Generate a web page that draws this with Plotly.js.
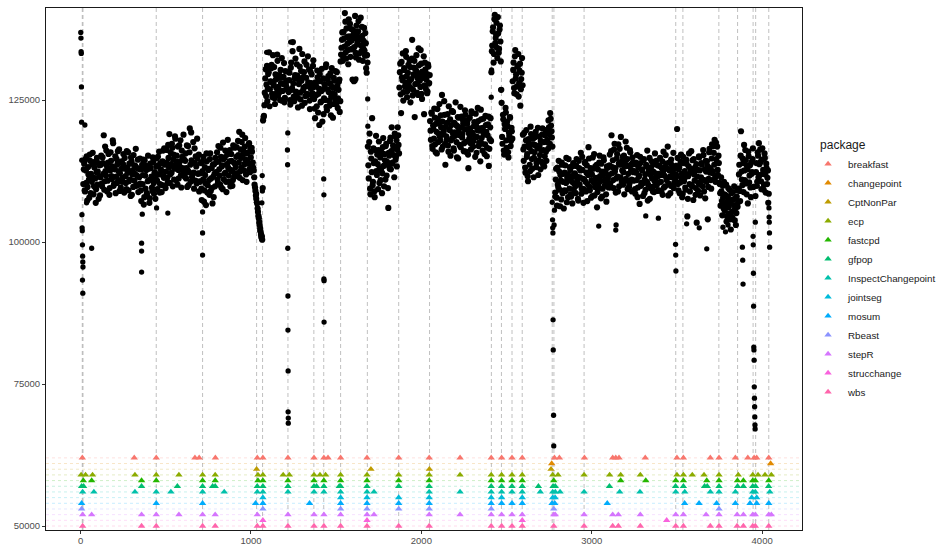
<!DOCTYPE html>
<html>
<head>
<meta charset="utf-8">
<script src="https://cdn.plot.ly/plotly-3.0.1.min.js"></script>
<style>html,body{margin:0;padding:0;background:#fff;}#chart{width:936px;height:545px;}</style>
</head>
<body>
<div id="chart"></div>
<script>
// ---------- observed series (values in thousands), two interleaved samplings every 5 index units ----------
const sampleStep = 5;
const interleaveOffset = 3;
const regimeStartX = [16, 1071, 1221, 1526, 1686, 1871, 2051, 2411, 2471, 2536, 2596, 2786, 3496, 3751, 3861, 3961];

const regime01 = [
110.2,113.8,108.9,112.6,115.1,109.7,111.9,107.8,114.3,112.0,
110.6,115.7,108.4,113.1,111.2,109.3,114.8,112.4,107.6,113.5,
111.4,115.2,109.8,113.9,118.8,110.7,112.5,116.1,108.9,114.0,
112.9,109.5,115.8,111.6,113.3,117.4,110.2,112.8,108.6,114.6,
113.7,110.9,116.3,112.1,
109.6,114.2,111.3,115.5,108.7,112.9,110.4,116.0,112.2,109.1,
113.8,111.0,114.9,108.3,112.6,115.3,110.8,113.4,109.9,111.7,
114.5,110.1,112.8,
110.3,107.2,113.6,111.8,106.6,114.4,109.4,112.7,108.1,115.2,
110.9,107.7,113.0,111.5,109.0,114.1,108.5,112.3,
111.1,114.7,109.3,113.5,115.9,110.2,112.8,108.8,114.2,111.6,116.5,109.9,
112.4,116.2,110.5,114.8,119.0,111.9,113.7,117.3,109.8,115.4,
112.9,118.2,110.9,114.1,116.8,111.2,113.3,117.9,109.6,115.0,
112.6,114.6,
111.5,115.6,113.0,109.7,116.9,112.3,120.0,110.6,114.4,111.8,
117.6,109.4,113.9,115.1,110.3,114.7,112.1,108.9,
110.6,113.9,107.4,112.5,115.0,109.1,111.8,106.5,114.2,110.0,
112.9,108.3,115.6,111.2,109.5,113.6,107.9,112.0,114.8,
112.3,115.8,110.4,114.2,111.7,116.6,109.6,113.5,117.5,111.0,
114.9,112.2,108.8,115.4,113.1,110.6,116.2,112.7,114.3,109.9,
117.0,111.5,113.8,
113.2,116.7,111.6,115.3,119.4,112.4,114.8,117.6,110.9,116.0,
113.7,118.3,111.9,115.6,114.1,117.2,112.8,116.4,113.5,115.9,
114.0,112.6,110.1,109.0,107.6,106.8,105.3,104.2,103.0,101.9,100.8,100.4];
const regime01b = [
112.8,109.1,114.6,110.4,107.3,113.2,111.0,115.4,108.6,110.9,
113.7,111.4,109.8,114.1,106.9,112.3,110.1,113.9,111.6,108.2,
113.6,110.3,114.9,112.0,109.2,116.8,111.7,113.4,110.8,115.5,
108.3,112.6,114.3,111.1,117.9,109.9,113.0,115.1,111.5,110.4,
116.0,112.4,109.0,114.0,
112.9,110.6,113.7,108.9,114.8,111.6,109.3,113.1,115.8,110.7,
112.4,108.1,114.2,111.9,109.7,113.5,112.0,116.4,110.0,113.0,
108.8,111.4,114.7,
109.1,112.8,110.2,114.5,107.9,111.7,113.4,108.6,110.7,112.9,
106.9,113.8,111.0,109.6,114.9,110.4,112.1,107.6,
113.3,110.8,115.0,111.9,108.7,113.9,112.5,110.0,116.1,111.3,113.6,109.5,
114.0,111.3,117.1,113.1,110.4,115.7,112.2,116.6,114.5,111.0,
118.6,113.5,115.2,110.1,112.7,117.0,114.2,111.8,116.1,113.0,
118.9,112.0,
114.3,111.2,117.0,112.6,110.0,115.8,113.6,119.3,111.4,114.0,
112.2,116.5,110.8,113.3,118.2,112.0,115.4,110.7,
112.1,109.4,114.1,111.0,107.1,113.2,110.3,115.6,108.7,112.7,
110.9,114.6,109.0,113.0,106.8,111.5,113.7,109.8,112.2,
114.1,111.0,116.9,112.8,110.1,115.0,113.3,109.3,114.6,112.0,
116.1,110.6,113.7,118.0,111.7,114.2,109.8,115.5,112.5,110.9,
114.0,116.6,112.1,
115.0,112.1,117.8,114.0,111.3,116.3,113.1,118.9,115.4,112.6,
116.8,114.5,110.6,115.7,113.8,117.4,112.3,114.9,116.6,113.0,
113.1,111.4,109.6,108.2,107.0,105.9,104.6,103.5,102.4,101.4,101.0,109.5];
const regime02 = [
121.4,122.2,126.3,130.4,127.7,124.8,129.6,133.4,126.9,128.3,
131.2,125.5,127.9,130.8,124.3,128.6,126.2,131.9,127.3,129.4,
125.0,128.0,132.4,126.6,129.1,124.6,130.1,127.5,128.4];
const regime02b = [
122.0,124.1,128.8,125.7,131.0,127.0,129.9,123.9,128.2,130.6,
126.1,132.9,127.6,125.3,129.5,127.1,133.0,125.8,128.9,126.4,
130.3,124.9,129.0,127.8,131.5,125.4,128.1,126.9,130.0];
const regime03 = [
126.4,129.8,124.2,131.6,127.1,135.2,125.6,128.8,132.3,126.0,
129.3,123.7,127.8,130.9,125.1,128.4,133.1,126.7,129.9,124.5,
127.4,131.2,125.9,128.1,130.4,123.4,127.0,129.5,126.2,132.0,
125.2,121.8,127.6,123.9,129.0,126.1,120.6,128.3,124.7,130.5,
126.9,122.5,127.8,125.0,131.3,123.2,128.6,126.4,124.0,129.7,
125.6,127.3,121.9,128.9,126.0,130.1,124.4,127.5,125.3,128.2,122.9];
const regime03b = [
128.5,125.0,130.7,126.8,133.6,127.9,124.8,129.4,126.5,131.3,
125.4,128.6,134.0,126.3,130.1,124.0,129.0,127.2,131.8,125.7,
128.9,126.1,132.7,127.5,124.9,130.0,128.0,125.8,131.0,127.3,
123.5,128.1,125.9,130.2,122.8,127.0,129.6,124.6,126.6,121.2,
128.8,125.3,127.7,130.8,123.8,126.9,129.2,124.9,127.9,122.3,
130.6,126.2,124.3,128.4,125.1,127.0,129.9,123.6,126.8,128.6,124.8];
const regime04 = [
131.8,134.2,136.9,132.7,135.8,140.3,133.4,137.6,134.9,131.3,
136.2,138.4,133.9,135.5,128.6,137.2,134.3,139.8,132.5,136.6,
135.1,138.9,133.2,136.0,134.6,137.9,131.9,135.4,133.7,136.8,130.6,132.9];
const regime04b = [
133.0,135.6,131.9,137.0,134.4,138.8,132.3,136.1,133.8,139.2,
135.2,132.6,137.5,134.0,136.4,128.3,135.9,133.3,138.1,134.8,
137.1,132.1,135.7,139.5,133.6,136.3,134.1,137.7,132.8,135.0,129.8,131.6];
const regime05 = [
116.8,111.2,119.1,108.4,114.7,121.8,110.6,113.9,107.9,116.2,
112.5,115.4,109.3,117.7,113.0,110.9,115.8,112.1,118.3,109.8,
114.4,116.9,111.7,113.6,106.0,115.2,117.8,112.8,120.2,114.0,
116.4,111.4,118.6,115.0,113.3,120.2,117.1];
const regime05b = [
113.5,117.6,109.4,115.9,112.3,110.0,116.5,108.9,114.2,118.7,
111.8,113.7,116.2,110.4,114.9,112.6,108.6,116.7,113.4,115.5,
111.0,117.3,114.1,109.5,115.7,112.9,118.4,116.0,113.8,117.0,
115.3,119.1,114.5,117.9,116.3,118.8,115.6];
const regime06 = [
127.2,131.4,122.7,129.0,133.2,126.4,130.3,128.1,132.6,125.5,
129.8,127.6,131.9,124.6,128.7,135.6,126.8,130.7,122.0,129.3,
132.9,127.9,125.9,131.1,128.4,133.8,126.1,130.0,128.9,122.5,
131.6,127.0,129.6,126.5,130.9,128.0];
const regime06b = [
129.9,126.0,131.7,128.5,124.9,130.6,127.4,133.6,129.2,126.6,
131.2,128.3,130.8,127.1,132.3,125.8,129.5,131.9,127.8,130.2,
126.3,128.8,134.1,129.7,127.3,131.4,125.2,129.1,132.7,127.6,
130.4,128.6,126.2,131.3,127.9,129.4];
const regime07 = [
121.3,118.0,122.6,116.4,119.9,123.5,117.2,120.8,115.6,121.7,
119.1,124.3,117.9,120.2,125.9,116.8,119.5,122.4,113.6,118.6,
121.0,117.0,123.9,119.7,115.2,120.6,118.3,122.9,116.1,119.3,
124.6,117.6,120.4,114.7,121.9,118.8,116.7,122.1,119.0,120.9,
117.4,123.2,115.9,119.8,121.4,113.0,118.2,120.0,116.3,122.7,
119.2,117.8,121.1,115.0,120.5,118.5,123.6,116.9,119.6,114.2,
121.6,117.3,120.1,118.9,115.5,122.2,119.4,116.6,120.7,113.4,
118.1,121.8];
const regime07b = [
119.6,122.8,116.9,120.5,118.2,121.9,115.8,119.4,123.4,117.6,
120.9,118.5,122.3,116.3,121.2,119.0,124.8,117.3,120.3,118.0,
122.5,115.9,119.8,121.6,117.9,123.1,119.2,116.5,121.0,118.7,
120.6,114.9,122.0,119.5,117.1,123.8,120.2,118.4,121.5,116.0,
119.9,122.4,117.7,120.8,115.4,119.1,121.9,117.4,123.0,118.9,
116.8,120.4,118.6,122.6,115.7,119.7,121.3,117.5,120.0,123.3,
118.3,116.1,121.7,119.3,117.2,120.6,115.1,118.8,122.1,116.4,
120.2,117.8];
const regime08 = [129.9,134.6,137.8,133.1,140.0,135.9,138.6,132.4,136.7,134.0,138.1,131.8];
const regime08b = [133.6,137.1,131.6,139.2,135.0,136.5,134.2,139.6,133.3,137.4,135.3,126.8];
const regime09 = [124.5,117.3,121.6,115.4,119.9,122.8,116.6,120.4,114.9,118.7,121.9,117.8,119.5];
const regime09b = [118.5,122.4,116.1,120.7,123.6,117.9,121.2,115.8,119.3,122.0,116.9,120.1,118.2];
const regime10 = [128.3,131.6,126.2,133.8,129.5,127.4,131.0,125.6,130.2,124.0,128.7,132.4];
const regime10b = [130.3,127.1,132.7,128.8,126.0,130.9,133.1,128.0,131.4,126.9,129.8,127.6];
const regime11 = [
118.9,114.3,116.8,112.2,119.7,115.5,110.7,117.4,113.6,120.3,
116.0,112.9,118.2,114.8,117.1,119.4,113.9,116.5,111.8,118.6,
115.3,117.8,114.1,120.0,116.2,113.3,118.8,115.9,119.3,117.5,
121.4,119.0,122.7,120.5,118.4];
const regime11b = [
116.3,119.2,113.1,117.9,115.0,111.6,118.1,116.6,112.5,119.0,
114.6,117.2,111.4,115.8,118.5,113.2,116.9,120.1,114.4,117.0,
112.8,116.1,118.9,113.7,117.6,115.1,119.7,114.3,118.0,116.4,
120.2,117.3,121.7,119.5,116.8];
const regime12 = [
108.7,112.9,106.4,110.1,114.3,109.2,111.8,107.5,113.6,110.6,
105.9,112.2,109.0,114.8,111.3,107.9,110.9,113.2,108.4,111.6,
106.8,113.9,110.3,
112.1,108.6,114.6,110.8,107.3,113.0,111.4,115.7,109.4,112.7,
106.9,111.0,114.1,108.9,113.5,110.2,116.7,109.7,112.4,107.8,
111.9,114.9,110.5,108.2,113.3,111.1,106.1,112.8,109.5,115.2,
110.7,113.8,108.0,111.7,114.4,109.9,112.5,107.1,110.4,113.1,
111.8,115.4,109.6,118.8,113.2,110.9,116.3,112.4,108.7,114.7,
111.5,117.2,109.8,113.6,118.5,110.6,115.0,112.3,108.4,114.2,
111.1,116.6,109.3,113.4,110.2,115.8,112.7,108.9,114.0,
110.8,113.7,108.5,112.2,115.3,109.6,111.5,106.7,113.9,110.4,
112.6,108.1,114.6,111.0,109.2,113.3,116.1,110.1,112.9,107.6,
111.8,114.2,109.7,112.4,108.8,115.6,111.3,110.0,113.5,
112.0,109.1,114.8,110.6,113.0,108.3,115.9,111.7,109.8,113.8,
111.2,116.8,110.3,112.6,108.6,114.5,111.4,113.2,109.5,112.9,110.8];
const regime12b = [
111.0,107.8,113.1,109.6,112.4,106.3,110.8,114.0,108.6,112.0,
109.1,113.5,110.4,107.0,111.9,114.6,109.4,112.7,108.0,110.6,
113.4,109.2,111.5,
109.8,113.4,111.5,107.6,114.3,110.1,112.6,108.5,115.0,111.1,
109.3,113.9,110.6,112.2,107.2,111.8,114.7,109.1,113.0,110.9,
108.1,112.9,115.5,109.7,111.3,113.6,108.8,110.2,114.0,111.6,
107.7,112.4,109.4,114.9,110.8,112.1,108.4,113.3,111.2,109.6,
113.5,110.3,116.0,112.1,114.4,109.5,117.3,113.0,111.2,115.5,
108.9,113.8,116.4,111.4,114.1,112.6,110.1,115.2,113.3,117.7,
110.8,114.6,112.0,109.7,116.2,113.6,111.0,114.9,112.3,
112.5,109.3,114.0,110.9,107.9,113.1,111.7,115.0,109.9,112.8,
110.3,114.4,108.6,111.9,113.6,110.6,107.3,112.3,114.8,109.5,
113.2,111.2,108.9,113.7,110.7,112.1,114.3,109.0,111.6,
110.5,113.4,111.8,108.9,114.2,112.4,109.6,113.1,115.3,110.9,
112.9,108.2,114.0,111.5,109.9,113.6,112.2,115.7,110.4,113.0,111.9];
const regime13 = [
113.4,119.9,110.2,112.8,108.6,114.1,111.3,107.9,115.0,110.7,
112.5,109.2,113.8,104.5,111.6,115.6,108.9,112.2,110.0,114.4,
107.4,111.9,113.1,109.5,103.4,112.7,110.4,114.9,108.2,111.4,
113.6,109.8,115.3,110.9,107.7,112.4,114.2,104.0,111.1,116.4,
113.0,109.4,117.2,112.1,115.7,118.0,110.6,114.6,116.8,111.8,113.9];
const regime13b = [
111.6,114.8,109.1,113.2,110.5,115.4,112.0,108.5,113.9,111.2,
109.6,114.5,111.9,107.6,113.3,110.2,112.9,116.0,109.8,112.4,
114.6,110.8,108.3,113.7,111.5,109.0,115.1,112.6,110.1,113.9,
111.0,116.2,108.9,112.8,114.3,110.6,113.4,109.7,115.8,112.2,
110.9,114.7,112.5,116.9,113.6,111.3,117.5,114.0,112.7,115.2,110.4];
const regime14 = [
110.2,106.4,108.9,104.7,107.8,110.6,105.5,108.2,103.6,107.1,
109.5,105.0,106.9,102.2,108.6,104.3,107.5,109.8,105.8,103.0,108.0,106.2];
const regime14b = [
108.6,111.4,107.2,109.9,105.9,108.4,106.7,110.1,104.5,108.0,
106.1,109.2,104.0,107.4,105.3,108.8,106.5,103.8,107.7,105.1,109.1,107.0];
const regime15 = [109.4,113.6,107.2,119.5,111.0,114.7,108.8,112.6,116.2,110.3,113.4,106.8,115.1,111.7,109.6,114.0,112.3,116.5];
const regime15b = [111.9,109.0,115.2,112.4,110.0,113.9,117.1,110.9,114.4,108.4,112.8,115.9,110.5,113.5,107.9,112.0,114.6,109.7];
const regime16 = [108.1,113.9,110.6,115.2,117.4,111.8,114.1,109.3,116.5,112.7,110.1,114.8,108.7,113.0,111.3,106.9];
const regime16b = [112.3,109.9,115.8,111.4,113.7,116.3,110.7,114.5,112.0,109.2,115.6,111.9,113.8,110.2,112.6,108.5];

const regimesA = [regime01,regime02,regime03,regime04,regime05,regime06,regime07,regime08,regime09,regime10,regime11,regime12,regime13,regime14,regime15,regime16];
const regimesB = [regime01b,regime02b,regime03b,regime04b,regime05b,regime06b,regime07b,regime08b,regime09b,regime10b,regime11b,regime12b,regime13b,regime14b,regime15b,regime16b];

// isolated observations (spikes / dips / stragglers): index and value in thousands
const extraX = [1,2,3,4,5,6,7,8,9,10,11,12,13,14,11,13,25,35,65,
358,358,358,362,446,512,716,716,716,
1033,1038,1043,1048,1053,1058,1063,1064,1066,1067,1092,
1214,1215,1216,1216,1217,1217,1218,1218,1219,1219,1233,
1427,1428,1428,1429,1429,1611,1616,1680,1685,1686,
2410,2412,2466,
2768,2770,2771,2772,2773,2774,2776,2777,2779,2781,2783,
3041,3141,3143,3317,3391,3492,3493,3494,3557,3631,3675,
3770,3785,3800,3884,3886,3888,
3947,3948,3949,3950,3951,3952,3953,3954,3955,3956,3957,3958,3959,3960,
4040,4041,4042,4043,4044];
const extraY = [136.9,135.9,133.5,133.2,127.3,121.1,114.4,104.8,102.5,102.0,99.5,97.5,96.5,95.6,93.3,91.0,120.6,106.9,98.9,
99.8,98.4,94.7,104.9,106.0,105.1,105.3,101.6,97.7,
108.5,106.0,104.6,103.3,102.0,101.2,100.5,106.9,111.7,109.0,133.4,
116.2,113.6,98.9,119.2,90.5,84.5,77.3,70.1,69.0,68.1,135.2,
111.1,108.3,93.5,93.2,85.9,128.4,128.7,133.0,125.2,120.4,
125.5,130.3,126.8,
107.0,103.9,102.5,101.6,86.3,81.0,69.5,64.1,103.0,105.6,108.0,
102.8,102.1,103.0,104.6,104.2,99.6,97.7,94.9,103.2,102.5,98.8,
102.6,101.8,103.0,99.1,96.8,92.6,
101.0,99.5,94.5,88.7,81.5,81.0,79.2,74.5,72.5,71.0,69.2,67.8,67.1,103.5,
106.0,104.4,103.5,101.6,99.1];

// ---------- detected change points per package ----------
const packages = ["breakfast","changepoint","CptNonPar","ecp","fastcpd","gfpop","InspectChangepoint","jointseg","mosum","Rbeast","stepR","strucchange","wbs"];
const packageColors = ["#F8766D","#E18A00","#BE9C00","#8CAB00","#24B700","#00BE70","#00C1AB","#00BBDA","#00ACFC","#8B93FF","#D575FE","#F962DD","#FF65AC"];
const packageLevel = [62000,61000,60000,59000,58000,57000,56000,55000,54000,53000,52000,51000,50000];
const changePoints = {
  breakfast: [10,315,444,671,696,791,1037,1070,1217,1370,1428,1452,1526,1681,1867,2046,2227,2410,2471,2532,2592,2781,2810,2957,3123,3141,3160,3314,3500,3538,3696,3747,3843,3916,3953,3968,4039],
  changepoint: [2765,4050],
  CptNonPar: [1033,1704,2047,2761],
  ecp: [3,29,70,319,444,577,716,790,1041,1070,1189,1225,1370,1405,1438,1526,1681,1867,2046,2227,2410,2471,2532,2592,2771,2802,2955,3105,3170,3285,3500,3538,3590,3659,3747,3860,3945,3976,4017,4054],
  fastcpd: [16,65,358,444,716,790,1041,1070,1217,1370,1428,1526,1681,1867,2046,2410,2471,2532,2592,2777,3170,3317,3493,3538,3675,3747,3855,3890,3945,3960,4039],
  gfpop: [6,18,358,568,716,775,790,1037,1070,1217,1370,1385,1428,1518,1526,1681,1867,2046,2410,2471,2532,2592,2687,2773,2786,3104,3492,3538,3662,3678,3747,3856,3890,3945,3961,4038],
  InspectChangepoint: [12,78,319,444,530,716,843,1037,1070,1217,1370,1428,1526,1681,1722,2046,2227,2410,2471,2532,2592,2698,2771,2786,2814,2955,3164,3283,3493,3546,3696,3747,3843,3945,3960,4045],
  jointseg: [1070,1526,1681,1867,2046,2410,2471,2592,2771,2785,3939,3968],
  mosum: [6,444,716,1027,1070,1344,1526,1681,1867,2046,2410,2471,2532,2592,2767,2783,3091,3545,3630,3733,3843,3929,3968,4039],
  Rbeast: [6,1070,1526,1681,1867,2046,2410,2777,3747],
  stepR: [12,65,358,444,577,716,790,1037,1217,1370,1428,1526,1681,1722,2046,2227,2410,2471,2532,2592,2777,2786,2955,3123,3156,3285,3493,3538,3671,3747,3853,3890,3945,3960,4039,4054],
  strucchange: [1070,1681,2592,3440],
  wbs: [12,358,444,716,790,1037,1070,1217,1370,1428,1526,1681,1867,2046,2410,2471,2532,2592,2777,2955,3123,3156,3285,3493,3538,3696,3747,3853,3890,3945,3960,4039]
};
// consensus change points (grey dashed verticals)
const consensusX = [10,14,444,716,1033,1068,1217,1369,1427,1526,1683,1867,2048,2411,2470,2532,2592,2768,2778,2955,3493,3535,3746,3856,3947,3962,4039];

const xTicks = [0,1000,2000,3000,4000];
const yTicks = [50000,75000,100000,125000];

// ---------- build ----------
const cloudX = [], cloudY = [];
function addRegimes(list, offset) {
  list.forEach((vals, r) => {
    vals.forEach((v, j) => { cloudX.push(regimeStartX[r] + offset + sampleStep * j); cloudY.push(v * 1000); });
  });
}
addRegimes(regimesA, 0);
addRegimes(regimesB, interleaveOffset);
const isoY = extraY.map(v => v * 1000);

function hexA(hex, a) {
  const n = parseInt(hex.slice(1), 16);
  return `rgba(${(n>>16)&255},${(n>>8)&255},${n&255},${a})`;
}

const traces = [
  { type: 'scatter', mode: 'markers', x: cloudX, y: cloudY, showlegend: false, hoverinfo: 'skip',
    marker: { color: '#000000', size: 6.2, line: { width: 0 } } },
  { type: 'scatter', mode: 'markers', x: extraX, y: isoY, showlegend: false, hoverinfo: 'skip',
    marker: { color: '#000000', size: 5.3, line: { width: 0 } } }
];
packages.forEach((p, k) => {
  const xs = changePoints[p];
  traces.push({
    type: 'scatter', mode: 'markers', name: p, x: xs, y: xs.map(() => packageLevel[k]),
    marker: { symbol: 'triangle-up', size: 6.5, color: packageColors[k], line: { width: 0 } }
  });
});

const shapes = [];
packages.forEach((p, k) => {
  shapes.push({ type: 'line', layer: 'below', xref: 'paper', yref: 'y', x0: 0, x1: 1, y0: packageLevel[k], y1: packageLevel[k],
    line: { color: hexA(packageColors[k], 0.22), width: 1, dash: '3px,3px' } });
});
consensusX.forEach(v => {
  shapes.push({ type: 'line', layer: 'below', xref: 'x', yref: 'paper', x0: v, x1: v, y0: 0, y1: 1,
    line: { color: 'rgba(165,165,165,0.7)', width: 1, dash: '4px,3px' } });
});

const axisFont = { family: 'Liberation Sans, Arial, sans-serif', size: 9.5, color: '#4D4D4D' };
const layout = {
  width: 936, height: 545,
  margin: { l: 46, r: 134, t: 8, b: 15, autoexpand: false },
  paper_bgcolor: '#ffffff', plot_bgcolor: '#ffffff',
  font: { family: 'Liberation Sans, Arial, sans-serif' },
  showlegend: true,
  xaxis: { range: [-203, 4234], tickvals: xTicks, ticktext: xTicks.map(String), showgrid: false, zeroline: false,
    showline: true, mirror: true, linecolor: '#1a1a1a', linewidth: 1, ticks: 'outside', ticklen: 3, tickcolor: '#333333',
    tickfont: axisFont, automargin: false, ticklabelstandoff: -1 },
  yaxis: { range: [49300, 141200], tickvals: yTicks, ticktext: yTicks.map(String), showgrid: false, zeroline: false,
    showline: true, mirror: true, linecolor: '#1a1a1a', linewidth: 1, ticks: 'outside', ticklen: 3, tickcolor: '#333333',
    tickfont: axisFont, automargin: false },
  legend: { x: 1.008, xanchor: 'left', y: 0.759, yanchor: 'top', bgcolor: 'rgba(0,0,0,0)',
    title: { text: '\u00A0\u00A0\u00A0package', font: { size: 12, color: '#1a1a1a' } },
    font: { size: 9.8, color: '#1a1a1a' }, itemclick: false },
  shapes: shapes
};
Plotly.newPlot('chart', traces, layout, { staticPlot: true });
</script>
</body>
</html>
